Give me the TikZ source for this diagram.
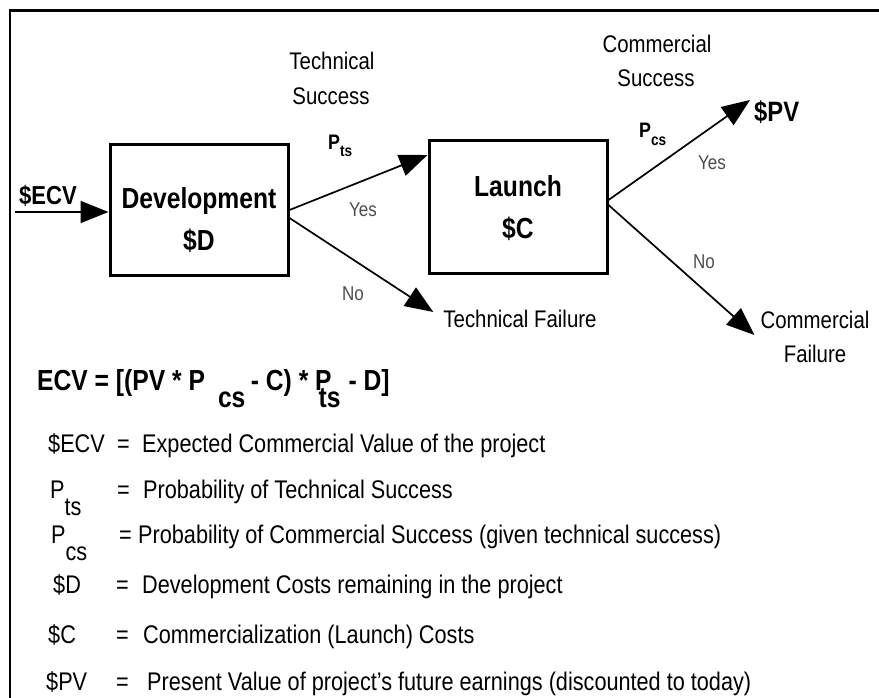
\documentclass[tikz,border=0pt]{standalone}
\usepackage{fontspec}
\setmainfont{Liberation Sans}[FakeStretch=0.85]
\usetikzlibrary{arrows.meta}
\begin{document}
\begin{tikzpicture}[x=1pt,y=-1pt,
  box/.style={draw, line width=3pt, minimum width=178pt, minimum height=130pt, inner sep=0pt},
  boxtext/.style={align=center, inner sep=0pt, font=\fontsize{29}{42}\selectfont\bfseries},
  arr/.style={line width=1.7pt, -{Triangle[length=28pt,width=22pt]}},
  lbl/.style={inner sep=0pt, anchor=base, font=\fontsize{24}{28}\selectfont},
  yn/.style={inner sep=0pt, anchor=base, text=black!70, font=\fontsize{20}{24}\selectfont},
  bl/.style={inner sep=0pt, anchor=base, font=\fontsize{26}{30}\selectfont\bfseries},
  deftxt/.style={inner sep=0pt, anchor=base west, font=\fontsize{25.5}{30}\selectfont},
  formula/.style={inner sep=0pt, anchor=base west, font=\fontsize{29}{32}\selectfont\bfseries},
]
\useasboundingbox (0,0) rectangle (879,698);
\draw[line width=2.5pt] (10,698) -- (10,10.5) -- (879,10.5);

% boxes
\node[box, label={[boxtext, name=devtxt, yshift=-10pt]center:Development\\\$D}] (dev) at (199,210) {};
\node[box, minimum height=132pt, label={[boxtext, name=launchtxt, yshift=-1pt]center:Launch\\\$C}] (launch) at (518,207) {};

% labels
\node[bl] (ecv) at (48,205) {\$ECV};
\coordinate (ecvstart) at (15,212);
\node[lbl] (ts1) at (332,70) {Technical};
\node[lbl] (ts2) at (331,105) {Success};
\node[inner sep=0pt, anchor=base west] (pts) at (328,150) {\fontsize{21}{24}\selectfont\bfseries P\raisebox{-7pt}{\fontsize{16}{18}\selectfont ts}};
\node[yn] (yes1) at (363,217) {Yes};
\node[yn] (no1) at (353,300) {No};
\node[lbl] (tf) at (520,327) {Technical Failure};

\node[lbl] (cs1) at (657,53) {Commercial};
\node[lbl] (cs2) at (656,87) {Success};
\node[inner sep=0pt, anchor=base west] (pcs) at (639,138) {\fontsize{21}{24}\selectfont\bfseries P\raisebox{-8pt}{\fontsize{16}{18}\selectfont cs}};
\node[inner sep=0pt, anchor=base west, font=\fontsize{28}{32}\selectfont\bfseries] (pv) at (754,122) {\$PV};
\node[yn] (yes2) at (712,170) {Yes};
\node[yn] (no2) at (704,268) {No};
\node[lbl] (cf1) at (815,328) {Commercial};
\node[lbl] (cf2) at (815,362) {Failure};

% connectors
\draw[arr] (ecvstart) -- (dev.west |- ecvstart);
\draw[arr] (dev.east) -- ([yshift=52pt]launch.west);
\draw[arr] ([yshift=-8pt]dev.east) -- ([xshift=-10pt,yshift=15pt]tf.base west);
\draw[arr] ([yshift=7pt]launch.east) -- ([xshift=-4pt,yshift=22pt]pv.base west);
\draw[arr] ([yshift=2pt]launch.east) -- ([xshift=-6pt,yshift=-7pt]cf1.base west);

% formula
\node[formula] (eq) at (37,390) {ECV = [(PV * P\rlap{\hspace{13pt}\raisebox{-17pt}{cs}}\hspace{39pt} - C) * P\rlap{\hspace{-13pt}\raisebox{-17pt}{ts}}\hspace{10pt} - D]};

% definitions
\node[deftxt] (d1a) at (48,452) {\$ECV};
\node[deftxt] (d1b) at (117,452) {=};
\node[deftxt] (d1c) at (142,452) {Expected Commercial Value of the project};

\node[deftxt] (d2a) at (50,498) {P\raisebox{-17pt}{ts}};
\node[deftxt] (d2b) at (117,498) {=};
\node[deftxt] (d2c) at (143,498) {Probability of Technical Success};

\node[deftxt] (d3a) at (51,543) {P\raisebox{-17pt}{cs}};
\node[deftxt] (d3b) at (119,543) {=};
\node[deftxt] (d3c) at (138,543) {Probability of Commercial Success (given technical success)};

\node[deftxt] (d4a) at (53,593) {\$D};
\node[deftxt] (d4b) at (116,593) {=};
\node[deftxt] (d4c) at (142,593) {Development Costs remaining in the project};

\node[deftxt] (d5a) at (48,643) {\$C};
\node[deftxt] (d5b) at (116,643) {=};
\node[deftxt] (d5c) at (143,643) {Commercialization (Launch) Costs};

\node[deftxt] (d6a) at (46,690) {\$PV};
\node[deftxt] (d6b) at (116,690) {=};
\node[deftxt] (d6c) at (147,690) {Present Value of project's future earnings (discounted to today)};
\end{tikzpicture}
\end{document}
